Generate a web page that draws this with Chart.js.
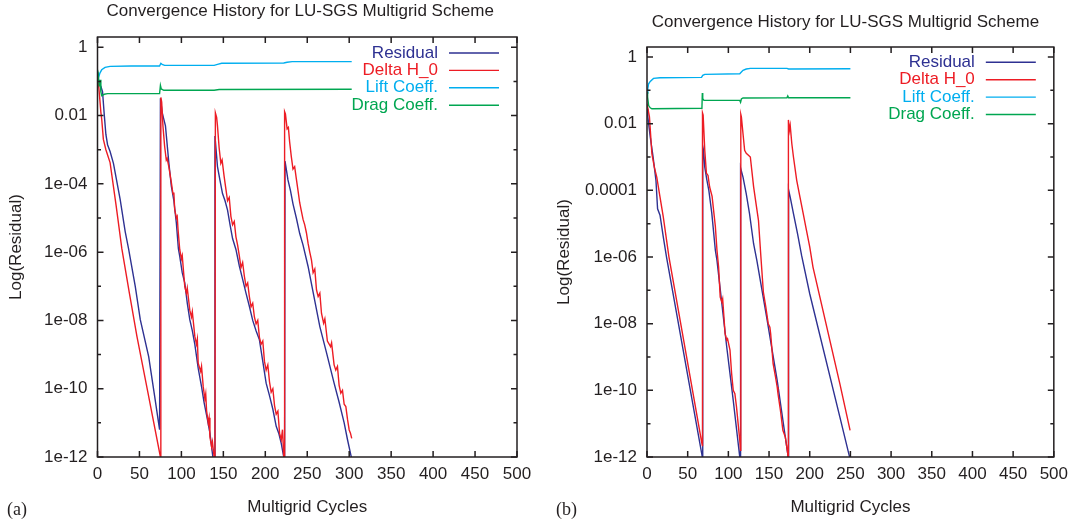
<!DOCTYPE html>
<html>
<head>
<meta charset="utf-8">
<script src="https://cdn.jsdelivr.net/npm/chart.js@4.4.0/dist/chart.umd.min.js"></script>
<style>
    html, body { margin: 0; padding: 0; background: #fff; }
    .panel { position: absolute; top: 0; }
    .panel canvas { display: block; }
    .tag { position: absolute; top: 499px; font: 18px "Liberation Serif", "Times New Roman", serif; color: #231f20; }
</style>
</head>
<body>
<div class="panel" style="left:0px"><canvas id="chart-a" width="540" height="524"></canvas></div>
<div class="panel" style="left:540px"><canvas id="chart-b" width="535" height="524"></canvas></div>
<div class="tag" style="left:7px">(a)</div>
<div class="tag" style="left:556px">(b)</div>
<script>
// Labels and axis ticks

var chartTitle = 'Convergence History for LU-SGS Multigrid Scheme';
var seriesLabels = ['Residual', 'Delta H_0', 'Lift Coeff.', 'Drag Coeff.'];
var seriesColors = ['#2e3192', '#ed1c24', '#00aeef', '#00a651'];

var xTickValues = [0, 50, 100, 150, 200, 250, 300, 350, 400, 450, 500];
var xTickLabels = ['0', '50', '100', '150', '200', '250', '300', '350', '400', '450', '500'];
var yTickValues = [1e-12, 1e-11, 1e-10, 1e-9, 1e-8, 1e-7, 1e-6, 1e-5, 1e-4, 1e-3, 1e-2, 1e-1, 1];
var yTickLabelsA = ['1e-12', '', '1e-10', '', '1e-08', '', '1e-06', '', '1e-04', '', '0.01', '', '1'];
var yTickLabelsB = ['1e-12', '', '1e-10', '', '1e-08', '', '1e-06', '', '0.0001', '', '0.01', '', '1'];

// Panel (a)

var residualCyclesA = [0, 2, 4, 6, 8, 10, 12, 15, 19, 27, 33, 37, 45, 51, 61, 68, 74,
    75, 77, 79, 81, 85, 88, 91, 94, 96.4, 98, 101, 104, 107, 110, 113, 116, 120, 124, 127, 131, 134, 137, 139,
    140, 143, 146, 149, 152, 155, 158, 161, 165, 169, 173, 177, 181, 185, 189, 193, 197, 201, 205, 209, 213, 216, 219, 222, 223,
    223.5, 227, 230, 233, 237, 241, 245, 251, 258, 265, 273, 282, 288, 294, 298, 302.5, 303];
var residualA = [6.6e-2, 8.3e-2, 7.2e-2, 5.0e-2, 1.1e-2, 2.8e-3, 1.4e-3, 8.9e-4, 4.0e-4, 3.5e-5, 4.0e-6, 1.26e-6, 1e-7, 1.05e-8, 8.7e-10, 6.3e-11, 6.3e-12,
    3.2e-2, 1.26e-2, 7.9e-3, 5.0e-3, 4.2e-4, 8.5e-5, 3.2e-5, 7.1e-6, 1.26e-6, 7.6e-7, 2.5e-7, 1.26e-7, 3.2e-8, 1.05e-8, 5.0e-9, 2.0e-9, 4.0e-10, 1.15e-10, 4.0e-11, 1.26e-11, 5.0e-12, 1.26e-12, 5e-13,
    2.5e-3, 3.2e-4, 1.26e-4, 5.2e-5, 3.2e-5, 1.7e-5, 6.3e-6, 2.5e-6, 1.2e-6, 4.0e-7, 1.6e-7, 6.3e-8, 2.6e-8, 1e-8, 5.0e-9, 2.7e-9, 6.3e-10, 1.45e-10, 6.3e-11, 2.5e-11, 7.9e-12, 5.0e-12, 2.5e-12, 1e-12, 5e-13,
    4.6e-4, 1.3e-4, 6.3e-5, 2.6e-5, 1e-5, 3.5e-6, 1.6e-6, 3.8e-7, 5.0e-8, 6.6e-9, 1.12e-9, 1.45e-10, 4.0e-11, 1e-11, 3.2e-12, 1e-12, 5e-13];

var deltaCyclesA = [0, 1, 2, 4, 5, 7, 10, 15, 22, 29, 38, 47, 60, 75,
    75.5, 76.5, 78, 80, 82, 83, 85, 88, 90, 91, 92, 94, 95, 96, 98, 100, 101, 104, 106, 107, 110, 112, 113, 116, 118, 119,
    120, 123, 124, 126, 128, 129, 130, 132, 133, 134, 136, 137, 139, 140,
    140.5, 142, 143, 145, 147, 148.5, 151, 153, 155, 157, 159, 161, 163, 165, 167, 169, 171, 173, 175, 177, 179, 181, 183, 185,
    187, 189, 191, 193, 195, 197, 199, 201, 203, 205, 207, 209, 211, 213, 215, 217, 219, 220.5, 222, 222.5,
    223, 224, 226, 227.5, 229, 231, 233, 235, 237, 239, 241, 243, 245, 247, 249, 251, 253, 255, 257, 259, 261, 263, 265,
    267, 269.5, 271, 274, 277.8, 279, 282, 284, 286, 288, 290, 292, 294, 296, 298, 300, 301.5, 303];
var deltaA = [1.26e-1, 1e-1, 5.0e-2, 1.26e-2, 7.9e-3, 2.0e-3, 1e-3, 4.2e-4, 2.5e-5, 1.26e-6, 6.3e-8, 3.4e-9, 7.9e-11, 1e-12,
    3.4e-2, 2.5e-2, 5.0e-3, 1.26e-3, 5.0e-4, 5.6e-4, 3.2e-4, 1.1e-4, 5.0e-5, 5.6e-5, 1.8e-5, 1e-5, 1.12e-5, 4.6e-6, 1.2e-6, 6.3e-7, 7.9e-7, 1e-7, 6.3e-8, 8.9e-8, 2.0e-8, 1.26e-8, 1.8e-8, 3.4e-9, 2.0e-9, 2.8e-9,
    5.6e-10, 3.2e-10, 4.5e-10, 1.15e-10, 5.0e-11, 7.1e-11, 2.3e-11, 1e-11, 1.4e-11, 3.9e-12, 2.0e-12, 2.8e-12, 1e-12, 5e-13,
    1.2e-2, 8.9e-3, 5.0e-3, 1.12e-3, 4.0e-4, 5.0e-4, 1.6e-4, 7.1e-5, 3.2e-5, 4.0e-5, 1.12e-5, 6.3e-6, 7.9e-6, 2.8e-6, 1.6e-6, 7.9e-7, 3.5e-7, 5.0e-7, 2.0e-7, 1e-7, 1.26e-7, 5.0e-8, 2.5e-8, 3.2e-8,
    1.26e-8, 7.9e-9, 1e-8, 3.2e-9, 2.0e-9, 2.5e-9, 6.3e-10, 3.5e-10, 5.0e-10, 1.6e-10, 7.9e-11, 1e-10, 3.2e-11, 1.8e-11, 2.2e-11, 5.0e-12, 3.2e-12, 6.3e-12, 1e-12, 5e-13,
    1.3e-2, 1.12e-2, 4.1e-3, 4.5e-3, 1.7e-3, 6.3e-4, 2.7e-4, 3.2e-4, 1.4e-4, 6.3e-5, 2.8e-5, 1.6e-5, 9.1e-6, 6.3e-6, 3.7e-6, 1.8e-6, 1e-6, 5.9e-7, 2.5e-7, 3.2e-7, 7.9e-8, 5.0e-8, 6.3e-8,
    1.6e-8, 8.3e-9, 1.12e-8, 2.5e-9, 1.7e-9, 2.2e-9, 5.0e-10, 3.5e-10, 4.5e-10, 1.26e-10, 7.4e-11, 8.9e-11, 3.5e-11, 3.0e-11, 1.26e-11, 6.2e-12, 5.0e-12, 3.5e-12];

var liftCyclesA = [0, 1, 3, 5, 9, 15, 40, 74, 75.5, 77, 80, 139, 143, 148, 222, 226, 232, 303];
var liftA = [9.3e-2, 0.126, 0.178, 0.219, 0.257, 0.275, 0.282, 0.282, 0.339, 0.316, 0.295, 0.295, 0.316, 0.339, 0.347, 0.363, 0.380, 0.380];

var dragCyclesA = [0, 1, 2, 3, 4, 5, 8, 12, 74, 75, 76, 79, 139, 145, 303];
var dragA = [0.117, 0.158, 0.071, 0.112, 0.05, 0.038, 0.042, 0.044, 0.044, 0.076, 0.060, 0.055, 0.055, 0.058, 0.059];

// Panel (b)

var residualCyclesB = [0, 1, 4, 7.5, 11, 13, 16, 20, 24, 68, 68.5,
    68.5, 69.5, 71, 73.5, 76, 79.6, 84, 86, 92, 98, 106, 114, 114.5,
    115, 118, 122, 126, 131, 135, 147, 160, 173.5, 174,
    174, 176, 180, 185, 190, 200, 237, 249, 249.5];
var residualB = [2.8e-2, 1.6e-2, 4.0e-3, 1e-3, 2.0e-4, 2.8e-5, 1.8e-5, 4.0e-6, 1e-6, 1e-12, 5e-13,
    2.1e-3, 1.6e-3, 5.0e-4, 2.1e-4, 1e-4, 2.1e-5, 1.6e-6, 7.9e-7, 4.0e-8, 2.0e-9, 5.0e-11, 1e-12, 5e-13,
    4.7e-4, 2.5e-4, 7.9e-5, 2.0e-5, 2.5e-6, 7.9e-7, 1.6e-8, 2.0e-10, 1e-12, 5e-13,
    1.05e-4, 6.3e-5, 2.0e-5, 5.0e-6, 1.12e-6, 7.9e-8, 1.6e-11, 1e-12, 5e-13];

var deltaCyclesB = [0, 3, 6, 9, 12, 16, 20, 27, 67.5, 68,
    68.2, 69, 71, 73, 75, 77, 80, 84, 86, 88, 90, 92, 93, 96, 98, 99, 102, 104, 106, 108, 110, 112, 114, 115,
    115.3, 116, 118, 120, 122, 125, 127, 131, 134, 137, 140, 143, 146, 149, 151, 152, 155, 158, 160, 161, 164, 167, 170, 173, 173.5,
    173.8, 175, 176, 178, 180, 184, 188, 192, 196, 200, 204, 237, 249.6];
var deltaB = [4.0e-2, 1.6e-2, 1.26e-3, 5.0e-4, 2.5e-4, 6.3e-5, 1.6e-5, 1e-6, 2.5e-12, 2.2e-12,
    2.1e-2, 1.8e-2, 1.6e-3, 3.3e-4, 2.8e-4, 1.26e-4, 6.6e-5, 8.3e-6, 1.6e-6, 5.0e-7, 6.3e-8, 4.5e-8, 5.6e-8, 5.0e-9, 3.2e-9, 3.5e-9, 1.6e-9, 3.2e-10, 1e-10, 7.9e-11, 3.2e-11, 1e-11, 3.2e-12, 1.6e-12,
    1.9e-2, 1.6e-2, 5.0e-3, 1.6e-3, 1.3e-3, 1.12e-3, 1e-3, 1.3e-4, 4.0e-5, 1.26e-5, 1e-6, 8.9e-8, 3.2e-8, 1e-8, 7.9e-9, 5.0e-9, 6.3e-10, 2.5e-10, 1.26e-10, 7.9e-11, 2.5e-11, 6.3e-12, 4.0e-12, 1.26e-12, 5e-13,
    1.3e-2, 6.3e-3, 8.9e-3, 2.5e-3, 1e-3, 2.0e-4, 6.3e-5, 2.0e-5, 6.3e-6, 2.0e-6, 5.0e-7, 1.6e-10, 6.3e-12];

var liftCyclesB = [0, 1, 2, 4, 8, 16, 67, 68.5, 71, 114, 116, 118, 122, 127, 172, 174, 176, 250];
var liftB = [0.083, 0.112, 0.158, 0.186, 0.229, 0.24, 0.245, 0.282, 0.302, 0.316, 0.355, 0.398, 0.437, 0.457, 0.457, 0.437, 0.437, 0.447];

var dragCyclesB = [0, 0.5, 1, 2, 4, 6, 67.5, 68, 68.5, 70, 114, 115, 116, 118, 172, 173, 174, 250];
var dragB = [0.059, 0.089, 0.063, 0.035, 0.030, 0.028, 0.029, 0.083, 0.056, 0.050, 0.050, 0.044, 0.055, 0.059, 0.060, 0.068, 0.060, 0.060];


// Helpers

var FONT_FAMILY = '"Liberation Sans", Arial, Helvetica, sans-serif';
var INK = '#231f20';

function points(xs, ys) {
    return xs.map(function (x, i) { return { x: x, y: ys[i] }; });
}

// gnuplot-like frame: border, inward ticks on all four sides, title and key
var gnuplotFrame = {
    id: 'gnuplotFrame',
    afterDatasetsDraw: function (chart, args, opts) {
        var ctx = chart.ctx;
        var area = chart.chartArea;
        var xs = chart.scales.x;
        var ys = chart.scales.y;

        ctx.save();
        ctx.strokeStyle = INK;
        ctx.lineWidth = 1.5;
        ctx.strokeRect(area.left, area.top, area.right - area.left, area.bottom - area.top);

        ctx.beginPath();
        xTickValues.forEach(function (v) {
            var px = xs.getPixelForValue(v);
            ctx.moveTo(px, area.bottom);
            ctx.lineTo(px, area.bottom - 6);
            ctx.moveTo(px, area.top);
            ctx.lineTo(px, area.top + 6);
        });
        yTickValues.forEach(function (v, i) {
            var py = ys.getPixelForValue(v);
            var len = i % 2 === 0 ? 6 : 3.5;
            ctx.moveTo(area.left, py);
            ctx.lineTo(area.left + len, py);
            ctx.moveTo(area.right, py);
            ctx.lineTo(area.right - len, py);
        });
        ctx.stroke();

        // title
        ctx.font = '17px ' + FONT_FAMILY;
        ctx.fillStyle = INK;
        ctx.textAlign = 'center';
        ctx.textBaseline = 'middle';
        ctx.fillText(opts.title, (area.left + area.right) / 2 + opts.titleShift, opts.titleY);

        // key
        ctx.textAlign = 'right';
        chart.data.datasets.forEach(function (ds, i) {
            var y = area.top + opts.keyTop + i * opts.keyGap;
            ctx.fillStyle = ds.borderColor;
            ctx.fillText(ds.label, area.right - 79, y);
            ctx.strokeStyle = ds.borderColor;
            ctx.lineWidth = ds.borderWidth;
            ctx.beginPath();
            ctx.moveTo(area.right - 68, y);
            ctx.lineTo(area.right - 18, y);
            ctx.stroke();
        });
        ctx.restore();
    }
};

function init(canvasId, series, yLabels, layout) {

    var datasets = series.map(function (s, i) {
        return {
            label: seriesLabels[i],
            data: points(s[0], s[1]),
            borderColor: seriesColors[i],
            backgroundColor: seriesColors[i],
            borderWidth: 1.4,
            pointRadius: 0,
            tension: 0,
            fill: false,
            order: 3 - i
        };
    });

    var font = { family: FONT_FAMILY, size: 17 };

    return new Chart(document.getElementById(canvasId), {
        type: 'line',
        data: { datasets: datasets },
        plugins: [gnuplotFrame],
        options: {
            responsive: false,
            animation: false,
            events: [],
            layout: {
                padding: { left: 0, right: layout.padRight, top: layout.padTop, bottom: 0 }
            },
            plugins: {
                legend: { display: false },
                tooltip: { enabled: false },
                gnuplotFrame: {
                    title: chartTitle,
                    titleY: layout.titleY,
                    titleShift: layout.titleShift,
                    keyTop: layout.keyTop,
                    keyGap: 17.4
                }
            },
            scales: {
                x: {
                    type: 'linear',
                    min: 0,
                    max: 500,
                    grid: { display: false, drawTicks: false },
                    border: { display: false },
                    afterBuildTicks: function (scale) {
                        scale.ticks = xTickValues.map(function (v) { return { value: v }; });
                    },
                    afterFit: function (scale) {
                        scale.height = 67;
                    },
                    ticks: {
                        autoSkip: false,
                        maxRotation: 0,
                        padding: 7,
                        color: INK,
                        font: font,
                        callback: function (value, index) { return xTickLabels[index]; }
                    },
                    title: {
                        display: true,
                        text: 'Multigrid Cycles',
                        color: INK,
                        font: font,
                        padding: { top: 0, bottom: 6 }
                    }
                },
                y: {
                    type: 'logarithmic',
                    min: 1e-12,
                    max: 2,
                    grid: { display: false, drawTicks: false },
                    border: { display: false },
                    afterBuildTicks: function (scale) {
                        scale.ticks = yTickValues.map(function (v) { return { value: v }; });
                    },
                    afterFit: function (scale) {
                        scale.width = layout.yWidth;
                    },
                    ticks: {
                        autoSkip: false,
                        padding: 10,
                        color: INK,
                        font: font,
                        callback: function (value, index) { return yLabels[index]; }
                    },
                    title: {
                        display: true,
                        text: 'Log(Residual)',
                        color: INK,
                        font: font,
                        padding: { top: layout.yTitlePad, bottom: 0 }
                    }
                }
            }
        }
    });
}

init('chart-a',
    [[residualCyclesA, residualA], [deltaCyclesA, deltaA], [liftCyclesA, liftA], [dragCyclesA, dragA]],
    yTickLabelsA,
    { padRight: 23, padTop: 37, yWidth: 97.5, yTitlePad: 6, titleY: 11.7, titleShift: -7, keyTop: 16 });

init('chart-b',
    [[residualCyclesB, residualB], [deltaCyclesB, deltaB], [liftCyclesB, liftB], [dragCyclesB, dragB]],
    yTickLabelsB,
    { padRight: 15, padTop: 47, yWidth: 107, yTitlePad: 14, titleY: 22.5, titleShift: -5, keyTop: 15.3 });
</script>
</body>
</html>
